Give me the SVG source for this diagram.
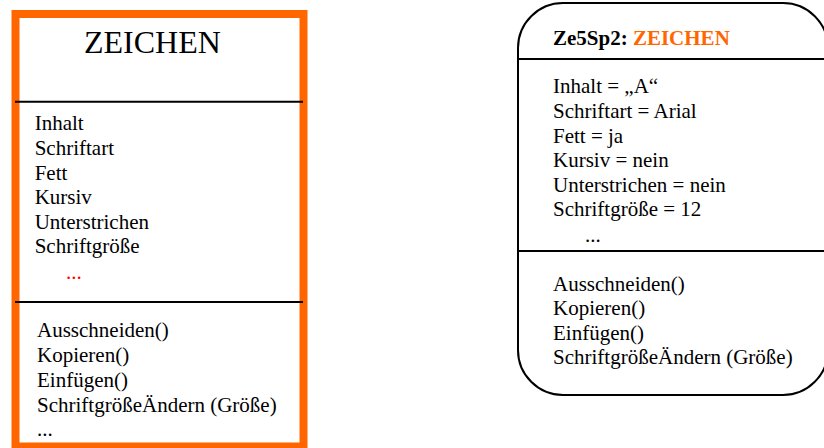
<svg xmlns="http://www.w3.org/2000/svg" width="824" height="448" viewBox="0 0 824 448">
<style>
text{font-family:"Liberation Serif","Times New Roman",serif;font-size:21px;fill:#000}
.title{font-size:32px}
.bold{font-weight:bold}
.orange{fill:#FF6600}
.red{fill:#FF0000}
.sep{stroke:#000;stroke-width:2}
</style>
<rect width="824" height="448" fill="#fff"/>
<g id="klasse-zeichen">
<rect x="15.5" y="14" width="288" height="432.5" fill="#fff" stroke="#FF6600" stroke-width="8"/>
<line class="sep" x1="15" y1="101.7" x2="303" y2="101.7"/>
<line class="sep" x1="15" y1="302" x2="303" y2="302"/>
<text class="title" x="84" y="53">ZEICHEN</text>
<text x="34.7" y="130">Inhalt</text>
<text x="34.7" y="155">Schriftart</text>
<text x="34.7" y="179.5">Fett</text>
<text x="34.7" y="204">Kursiv</text>
<text x="34.7" y="228.5">Unterstrichen</text>
<text x="34.7" y="253">Schriftgröße</text>
<text class="red" x="66" y="279">...</text>
<text x="37" y="337">Ausschneiden()</text>
<text x="37" y="362">Kopieren()</text>
<text x="37" y="387">Einfügen()</text>
<text x="37" y="412">SchriftgrößeÄndern (Größe)</text>
<text x="37" y="436">...</text>
</g>
<g id="objekt-ze5sp2">
<rect x="518" y="3" width="310" height="392" rx="45" ry="45" fill="#fff" stroke="#000" stroke-width="2"/>
<line class="sep" x1="518" y1="59" x2="828" y2="59"/>
<line class="sep" x1="518" y1="251" x2="828" y2="251"/>
<text class="bold" x="553" y="45">Ze5Sp2: <tspan class="orange">ZEICHEN</tspan></text>
<text x="553" y="93">Inhalt = „A“</text>
<text x="553" y="118">Schriftart = Arial</text>
<text x="553" y="142.5">Fett = ja</text>
<text x="553" y="167">Kursiv = nein</text>
<text x="553" y="191.5">Unterstrichen = nein</text>
<text x="553" y="216">Schriftgröße = 12</text>
<text x="585" y="242">...</text>
<text x="553" y="291">Ausschneiden()</text>
<text x="553" y="315">Kopieren()</text>
<text x="553" y="339.5">Einfügen()</text>
<text x="553" y="364">SchriftgrößeÄndern (Größe)</text>
</g>
<g id="connectors"></g>
</svg>
